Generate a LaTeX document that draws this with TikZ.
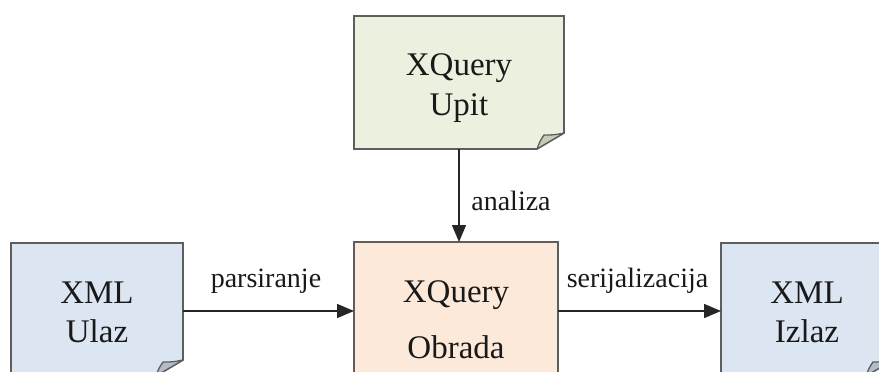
\documentclass[tikz,border=0pt]{standalone}
\usepackage{fontspec}
\setmainfont{Liberation Serif}
\usetikzlibrary{arrows.meta}
\definecolor{gfill}{HTML}{EBF1DE}
\definecolor{gfold}{HTML}{C4CCB6}
\definecolor{bfill}{HTML}{DCE6F2}
\definecolor{bfold}{HTML}{B3BDC9}
\definecolor{pfill}{HTML}{FDE9D9}
\definecolor{edgecol}{HTML}{5E5E5E}
\tikzset{
  boxnode/.style={inner sep=0pt, outer sep=0pt},
  boxline/.style={draw=edgecol, line width=1.6pt, line join=miter},
  foldline/.style={draw=edgecol, line width=1.3pt, line join=round},
  maintext/.style={font=\fontsize{33}{40}\selectfont, inner sep=0pt, anchor=base, text=black!90},
  labtext/.style={font=\fontsize{28}{32}\selectfont, inner sep=0pt, anchor=base, text=black!90},
  conn/.style={draw=black!85, line width=1.5pt, -{Triangle[length=17pt,width=14pt]}}
}
\newcommand\docshape[3]{%
  \path[boxline, fill=#2] (#1.north west) -- (#1.north east) -- ([yshift=16pt]#1.south east)
     -- ([xshift=-27pt]#1.south east) -- (#1.south west) -- cycle;
  \path[foldline, fill=#3] ([xshift=-27pt]#1.south east)
     .. controls ([xshift=-24pt,yshift=8pt]#1.south east) .. ([xshift=-20pt,yshift=14pt]#1.south east)
     .. controls ([xshift=-10pt,yshift=14pt]#1.south east) .. ([yshift=16pt]#1.south east) -- cycle;
}
\begin{document}
\begin{tikzpicture}[x=1pt,y=-1pt]
\useasboundingbox (0,0) rectangle (879,372);
\clip (0,0) rectangle (879,372);
\fill[white] (0,0) rectangle (879,372);
% boxes
\node[boxnode, minimum width=210pt, minimum height=133pt] (upit) at (459,82.5) {};
\node[boxnode, minimum width=172pt, minimum height=133pt] (ulaz) at (97,309.5) {};
\node[boxnode, minimum width=204pt, minimum height=138pt] (obrada) at (456,311) {};
\node[boxnode, minimum width=172pt, minimum height=133pt] (izlaz) at (807,309.5) {};
\docshape{upit}{gfill}{gfold}
\docshape{ulaz}{bfill}{bfold}
\docshape{izlaz}{bfill}{bfold}
\path[boxline, fill=pfill] (obrada.north west) rectangle (obrada.south east);
% texts
\node[maintext] (upit1) at (459,75) {XQuery};
\node[maintext] (upit2) at (459,115) {Upit};
\node[maintext] (ulaz1) at (97,303) {XML};
\node[maintext] (ulaz2) at (97,342) {Ulaz};
\node[maintext] (obrada1) at (456,302) {XQuery};
\node[maintext] (obrada2) at (456,358) {Obrada};
\node[maintext] (izlaz1) at (807,303) {XML};
\node[maintext] (izlaz2) at (807,342) {Izlaz};
% connectors
\draw[conn] (upit.south) -- (upit.south |- obrada.north);
\draw[conn] (ulaz.east |- obrada.west) -- (obrada.west);
\draw[conn] (obrada.east) -- (izlaz.west |- obrada.east);
% labels
\node[labtext] (lanaliza) at (511,210) {analiza};
\node[labtext] (lparse) at (266,287) {parsiranje};
\node[labtext] (lserial) at (637.5,287) {serijalizacija};
\end{tikzpicture}
\end{document}
